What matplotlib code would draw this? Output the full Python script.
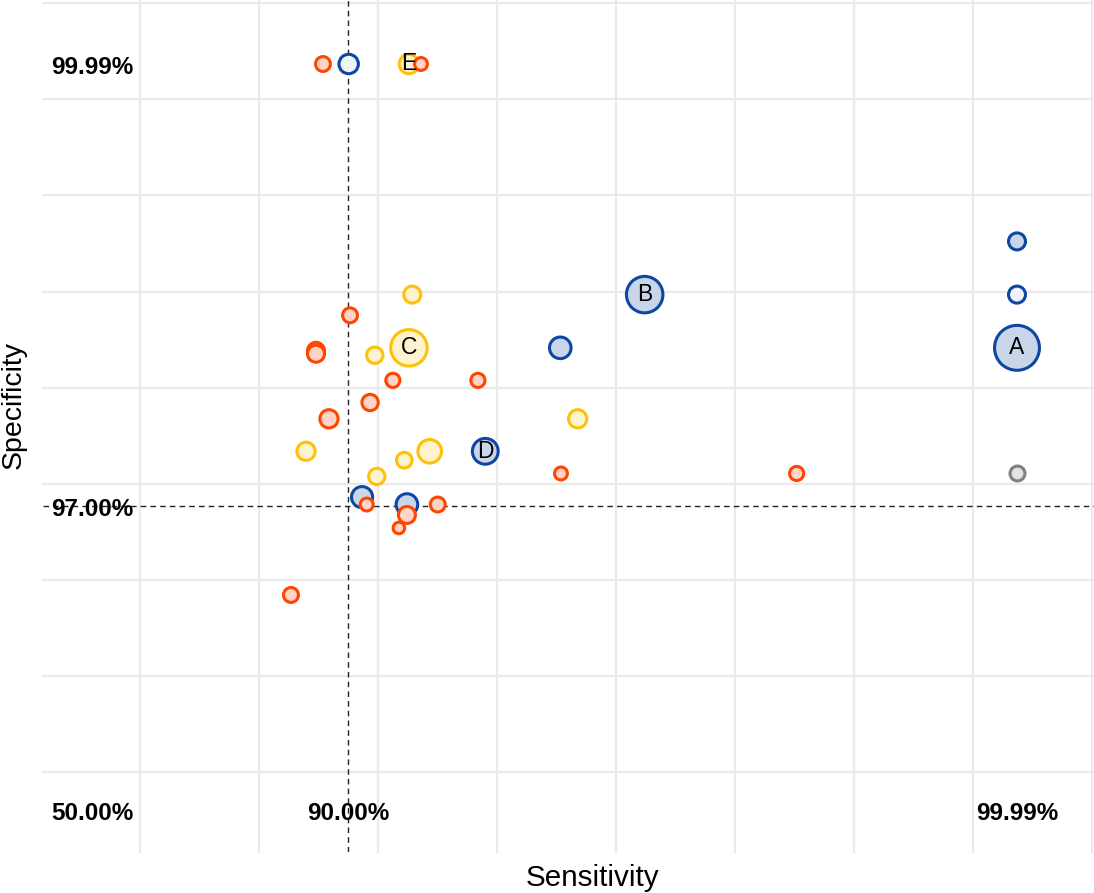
import numpy as np
import matplotlib
matplotlib.use('Agg')
import matplotlib.pyplot as plt
import matplotlib.transforms as mtransforms

plt.rcParams['font.family'] = ['Liberation Sans', 'DejaVu Sans']

# Data: sensitivity / specificity (%) per study, bubble weight, group, label
sensitivity = [86.09, 90.01, 90.91, 91.09, 99.99, 99.99, 99.99, 99.99, 94.43, 90.96,
               90.03, 85.00, 85.00, 90.40, 90.91, 90.67, 91.94, 93.17, 90.33, 87.03,
               93.43, 83.44, 91.22, 92.05, 90.84, 90.43, 93.18, 96.70, 90.21, 90.28,
               90.88, 90.88, 91.34, 90.76, 81.09]
specificity = [99.99, 99.99, 99.99, 99.99, 98.79, 98.43, 98.07, 97.22, 98.43, 98.43,
               98.29, 98.05, 98.03, 98.02, 98.07, 97.85, 97.85, 98.07, 97.70, 97.59,
               97.59, 97.37, 97.37, 97.37, 97.31, 97.20, 97.22, 97.22, 97.06, 97.01,
               97.01, 95.52, 97.01, 93.38, 82.34]
weight = [100, 170, 170, 75, 130, 130, 910, 100, 600, 130,
          100, 130, 130, 120, 600, 90, 90, 210, 120, 150,
          150, 150, 250, 300, 110, 120, 75, 90, 200, 75,
          210, 130, 100, 60, 100]
group = ['orange', 'blue_open', 'yellow', 'orange', 'blue', 'blue_open', 'blue', 'gray', 'blue', 'yellow',
         'orange', 'orange', 'orange', 'yellow', 'yellow', 'orange', 'orange', 'blue', 'orange', 'orange',
         'yellow', 'yellow', 'yellow', 'blue', 'yellow', 'yellow', 'orange', 'orange', 'blue', 'orange',
         'blue', 'orange', 'orange', 'orange', 'orange']
label = ['', '', 'E', '', '', '', 'A', '', 'B', '',
         '', '', '', '', 'C', '', '', '', '', '',
         '', '', '', 'D', '', '', '', '', '', '',
         '', '', '', '', '']

x_tick_vals = [50, 90, 99.99]
x_tick_text = ['50.00%', '90.00%', '99.99%']
y_tick_vals = [99.99, 97.00]
y_tick_text = ['99.99%', '97.00%']
sens_cut = 90
spec_cut = 97

# styles per group: edge, fill, zorder
styles = {
    'blue': ('#0D47A1', '#C9D6EA', 3),
    'blue_open': ('#0D47A1', '#EEF3FA', 3),
    'gray': ('#808080', '#E2E2E2', 3),
    'yellow': ('#FFC107', '#FFF3CF', 4),
    'orange': ('#FF4500', '#FFD3C7', 5),
}

# non-linear axis scales (percent -> screen position)
x_pct = [40, 50, 90, 99.99, 100]
x_pos = [0, 49, 305, 974, 1051]
y_pct = [40, 97, 99.99, 100]
y_pos = [0, 346, 788, 852]

def xf(v):
    return np.interp(v, x_pct, x_pos)

def xi(p):
    return np.interp(p, x_pos, x_pct)

def yf(v):
    return np.interp(v, y_pct, y_pos)

def yi(p):
    return np.interp(p, y_pos, y_pct)

fig = plt.figure(figsize=(10.94, 8.93), dpi=100)
ax = fig.add_axes([43 / 1094, 1 - 852 / 893, 1051 / 1094, 852 / 893])
ax.set_xscale('function', functions=(xf, xi))
ax.set_yscale('function', functions=(yf, yi))
ax.set_xlim(40, 100)
ax.set_ylim(40, 100)
for s in ax.spines.values():
    s.set_visible(False)
ax.set_xticks([])
ax.set_yticks([])
ax.minorticks_off()

# light grid
for k in range(9):
    fx = 97 / 1051 + k * 119 / 1051
    ax.plot([fx, fx], [0, 1], transform=ax.transAxes, color='#EAEAEA', lw=1.6, zorder=0, clip_on=False)
    fy = 80 / 852 + k * 96.1 / 852
    ax.plot([0, 1], [fy, fy], transform=ax.transAxes, color='#EAEAEA', lw=1.6, zorder=0, clip_on=False)

# threshold lines
ax.axvline(sens_cut, color='#222222', lw=1, linestyle=(0, (4, 3)), zorder=1)
ax.axhline(spec_cut, color='#222222', lw=1, linestyle=(0, (4, 3)), zorder=1)

# bubbles
for g, (edge, fill, z) in styles.items():
    idx = [i for i, gg in enumerate(group) if gg == g]
    ax.scatter([sensitivity[i] for i in idx], [specificity[i] for i in idx],
               s=[weight[i] * 1.15 for i in idx], facecolor=fill, edgecolor=edge,
               linewidth=2.2, zorder=z)

for sx, sy, lab in zip(sensitivity, specificity, label):
    if lab:
        ax.text(sx, sy, lab, ha='center', va='center', fontsize=16.5, zorder=10)

# in-plot tick labels
tx = mtransforms.blended_transform_factory(ax.transData, ax.transAxes)
for v, t in zip(x_tick_vals, x_tick_text):
    ax.text(v, 38 / 852, t, transform=tx, ha='center', va='center',
            fontsize=17.5, fontweight='bold')
ty = mtransforms.blended_transform_factory(ax.transAxes, ax.transData)
shift = mtransforms.ScaledTranslation(0, -3 / 100, fig.dpi_scale_trans)
for v, t in zip(y_tick_vals, y_tick_text):
    ax.text(90 / 1051, v, t, transform=ty + shift, ha='right', va='center',
            fontsize=17.5, fontweight='bold')

fig.text(593 / 1094, 1 - 878 / 893, 'Sensitivity', ha='center', va='center', fontsize=21.3)
fig.text(14 / 1094, 1 - 405 / 893, 'Specificity', ha='center', va='center', fontsize=20.5, rotation=90)

fig.savefig('out.png', dpi=100)
